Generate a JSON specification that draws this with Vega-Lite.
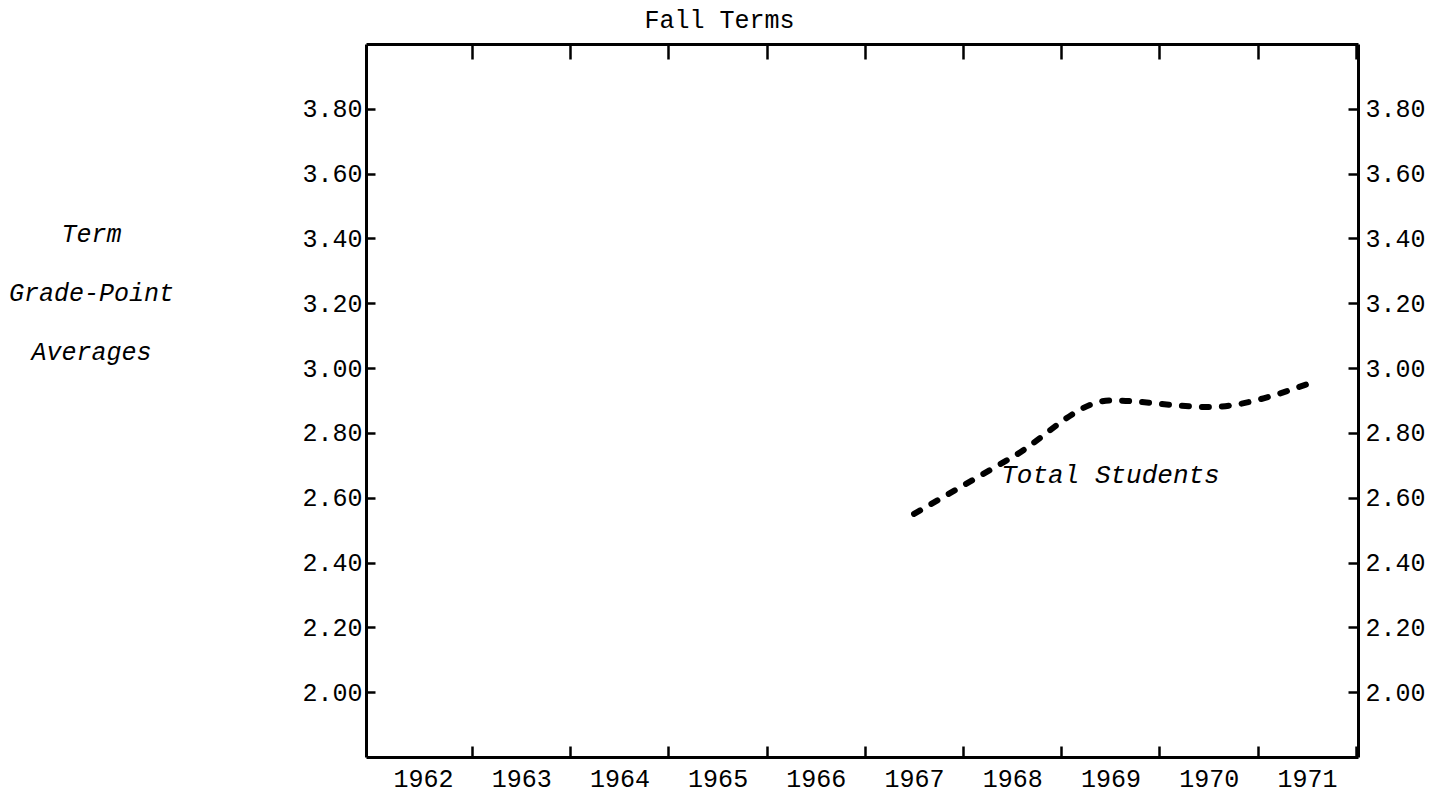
{
  "$schema": "https://vega.github.io/schema/vega-lite/v6.json",
  "width": 992,
  "height": 713,
  "autosize": {"type": "none"},
  "padding": {"left": 366, "top": 44, "right": 88, "bottom": 40},
  "background": "white",
  "config": {
    "view": {"stroke": null},
    "axis": {
      "grid": false,
      "labelFont": "Liberation Mono",
      "labelFontSize": 25,
      "labelColor": "black",
      "titleFont": "Liberation Mono",
      "titleFontSize": 25,
      "titleColor": "black",
      "titleFontWeight": "normal",
      "domainColor": "black",
      "domainWidth": 3,
      "tickColor": "black",
      "tickWidth": 2.5
    }
  },
  "layer": [
    {
      "data": {
        "values": [
          {"year": 1967, "gpa": 2.55},
          {"year": 1968, "gpa": 2.725},
          {"year": 1969, "gpa": 2.9},
          {"year": 1970, "gpa": 2.88},
          {"year": 1971, "gpa": 2.95}
        ]
      },
      "mark": {
        "type": "line",
        "color": "black",
        "strokeWidth": 6,
        "strokeDash": [7, 13],
        "strokeCap": "round",
        "interpolate": "monotone"
      },
      "encoding": {
        "x": {
          "field": "year",
          "type": "quantitative",
          "scale": {"domain": [1961.42, 1971.52], "nice": false, "zero": false},
          "axis": {
            "orient": "bottom",
            "title": null,
            "values": [1962, 1963, 1964, 1965, 1966, 1967, 1968, 1969, 1970, 1971],
            "format": "d",
            "tickOffset": 49,
            "labelOffset": -49,
            "tickSize": -11,
            "labelPadding": 20,
            "labelFlush": false,
            "labelOverlap": false
          }
        },
        "y": {
          "field": "gpa",
          "type": "quantitative",
          "scale": {"domain": [1.8, 4.0], "nice": false, "zero": false},
          "axis": {
            "orient": "left",
            "values": [2.0, 2.2, 2.4, 2.6, 2.8, 3.0, 3.2, 3.4, 3.6, 3.8],
            "format": ".2f",
            "tickSize": -9,
            "labelPadding": 13,
            "labelFlush": false,
            "labelOverlap": false,
            "title": ["Term", "Grade-Point", "Averages"],
            "titleFontStyle": "italic",
            "titleAngle": 0,
            "titleX": -275,
            "titleY": 189,
            "titleAlign": "center",
            "titleBaseline": "middle",
            "titleLineHeight": 59
          }
        }
      }
    },
    {
      "data": {
        "values": [
          {"year": 1969, "gpa": 2.67, "label": "Total Students"}
        ]
      },
      "mark": {
        "type": "text",
        "font": "Liberation Mono",
        "fontStyle": "italic",
        "fontSize": 26,
        "color": "black",
        "align": "center",
        "baseline": "middle"
      },
      "encoding": {
        "text": {"field": "label"},
        "x": {
          "field": "year",
          "type": "quantitative",
          "axis": {
            "orient": "top",
            "values": [1962, 1963, 1964, 1965, 1966, 1967, 1968, 1969, 1970, 1971],
            "tickOffset": 49,
            "labels": false,
            "tickSize": -15,
            "title": "Fall Terms",
            "titleAngle": 0,
            "titleX": 353,
            "titleY": -25,
            "titleAlign": "center",
            "titleBaseline": "middle"
          }
        },
        "y": {
          "field": "gpa",
          "type": "quantitative",
          "axis": {
            "orient": "right",
            "title": null,
            "values": [2.0, 2.2, 2.4, 2.6, 2.8, 3.0, 3.2, 3.4, 3.6, 3.8],
            "format": ".2f",
            "tickSize": -10,
            "labelPadding": 17,
            "labelFlush": false,
            "labelOverlap": false
          }
        }
      }
    }
  ],
  "resolve": {"axis": {"x": "independent", "y": "independent"}}
}
